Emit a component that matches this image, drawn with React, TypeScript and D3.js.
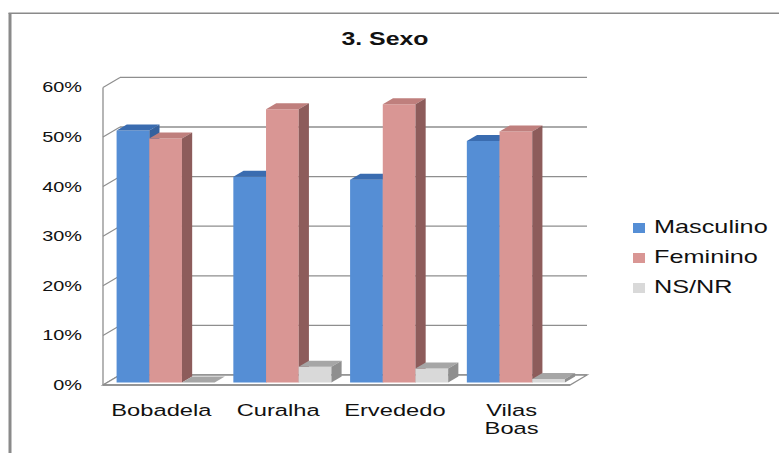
import React from "react";
import * as d3 from "d3";

// Survey answers per parish, in percent
const categories = ["Bobadela", "Curalha", "Ervededo", "Vilas Boas"];
const seriesNames = ["Masculino", "Feminino", "NS/NR"];
const masculino = [50.8, 41.5, 40.9, 48.7];
const feminino = [49.2, 55.1, 56.1, 50.6];
const nsnr = [0, 3.2, 2.8, 0.7];
const yTicks = [0, 10, 20, 30, 40, 50, 60];
const chartTitle = "3. Sexo";

const W = 779;
const H = 453;

// faces: front, top, side
const palette = [
  { front: "#558ed5", top: "#3a6cb0", side: "#35619e" },
  { front: "#d99694", top: "#bf7f7d", side: "#8d5c5b" },
  { front: "#d9d9d9", top: "#a6a6a6", side: "#8f8f8f" },
];

const FONT = "'Liberation Sans', Arial, sans-serif";
const SX = 1.42; // horizontal text stretch

export default function App() {
  const series = [masculino, feminino, nsnr];

  const plotLeft = 103;
  const plotRight = 570;
  const floorY = 385;
  const wallDx = 17;
  const wallDy = -10;
  // columns sit a quarter of the way into the box and fill 60% of its depth
  const planeDx = wallDx * 0.25;
  const planeDy = wallDy * 0.25;
  const barDx = wallDx * 0.6;
  const barDy = wallDy * 0.6;

  const y = d3.scaleLinear().domain([0, 60]).range([floorY, 87.4]);
  const x0 = d3
    .scaleBand<string>()
    .domain(categories)
    .range([plotLeft, plotRight])
    .paddingInner(0.16)
    .paddingOuter(0.08);
  const x1 = d3
    .scaleBand<string>()
    .domain(seriesNames)
    .range([0, x0.bandwidth()])
    .padding(0);
  const band = d3.scaleBand<string>().domain(categories).range([plotLeft, plotRight]);

  const grid = "#8e8e8e";
  const pts = (arr: number[][]) => arr.map((p) => p.join(",")).join(" ");

  // drawn left to right so each column covers the side face of the one before it
  const bars: React.ReactNode[] = [];
  categories.forEach((c, ci) => {
    seriesNames.forEach((s, si) => {
      const v = series[si][ci];
      const l = (x0(c) as number) + (x1(s) as number) + planeDx;
      const r = l + x1.bandwidth();
      const b = y(0) + planeDy;
      const t = y(v) + planeDy;
      const col = palette[si];
      bars.push(
        <g key={`${c}-${s}`}>
          <polygon points={pts([[l, b], [r, b], [r, t], [l, t]])} fill={col.front} />
          <polygon
            points={pts([[l, t], [r, t], [r + barDx, t + barDy], [l + barDx, t + barDy]])}
            fill={col.top}
          />
          <polygon
            points={pts([[r, b], [r + barDx, b + barDy], [r + barDx, t + barDy], [r, t]])}
            fill={col.side}
          />
        </g>
      );
    });
  });

  return (
    <svg width={W} height={H} style={{ position: "absolute", left: 0, top: 0, background: "#fff" }}>
      <rect x={0} y={0} width={W} height={H} fill="#fff" />
      {/* outer frame */}
      <line x1={10} y1={13} x2={10} y2={H} stroke="#8a8a8a" strokeWidth={3} />
      <line x1={8.5} y1={13.3} x2={W} y2={13.3} stroke="#8a8a8a" strokeWidth={1.5} />

      <text
        transform={`translate(385,45) scale(${SX},1)`}
        textAnchor="middle"
        fontFamily={FONT}
        fontWeight="bold"
        fontSize={17.5}
        fill="#111"
      >
        {chartTitle}
      </text>

      {/* back wall gridlines, side wall ticks and value labels */}
      {yTicks.map((t) => (
        <g key={t}>
          <line
            x1={plotLeft + wallDx}
            x2={plotRight + wallDx}
            y1={y(t) + wallDy}
            y2={y(t) + wallDy}
            stroke={grid}
            strokeWidth={1.3}
          />
          <line
            x1={plotLeft}
            x2={plotLeft + wallDx}
            y1={y(t)}
            y2={y(t) + wallDy}
            stroke={grid}
            strokeWidth={1.2}
          />
          <text
            transform={`translate(82,${y(t) + 5}) scale(${SX},1)`}
            textAnchor="end"
            fontFamily={FONT}
            fontSize={14}
            fill="#111"
          >
            {`${t}%`}
          </text>
        </g>
      ))}
      <line x1={plotLeft} x2={plotLeft} y1={y(0)} y2={y(60)} stroke={grid} strokeWidth={1.3} />

      {/* floor */}
      <polygon
        points={pts([
          [plotLeft, floorY],
          [plotRight, floorY],
          [plotRight + wallDx, floorY + wallDy],
          [plotLeft + wallDx, floorY + wallDy],
        ])}
        fill="#fff"
        stroke={grid}
        strokeWidth={1.3}
      />

      {bars}

      <line x1={plotLeft} x2={plotRight} y1={floorY} y2={floorY} stroke={grid} strokeWidth={1.3} />

      {/* category labels, wrapped on spaces */}
      {categories.map((c) =>
        c.split(" ").map((ln, i) => {
          const cx = (band(c) as number) + band.bandwidth() / 2;
          return (
            <text
              key={`${c}-${i}`}
              transform={`translate(${cx},${416 + i * 18}) scale(${SX},1)`}
              textAnchor="middle"
              fontFamily={FONT}
              fontSize={16.7}
              fill="#111"
            >
              {ln}
            </text>
          );
        })
      )}

      {/* legend */}
      {seriesNames.map((s, i) => (
        <g key={s}>
          <rect x={633} y={223 + i * 30} width={12} height={10} fill={palette[i].front} />
          <text
            transform={`translate(654,${233.3 + i * 30}) scale(${SX},1)`}
            fontFamily={FONT}
            fontSize={17.8}
            fill="#111"
          >
            {s}
          </text>
        </g>
      ))}
    </svg>
  );
}
